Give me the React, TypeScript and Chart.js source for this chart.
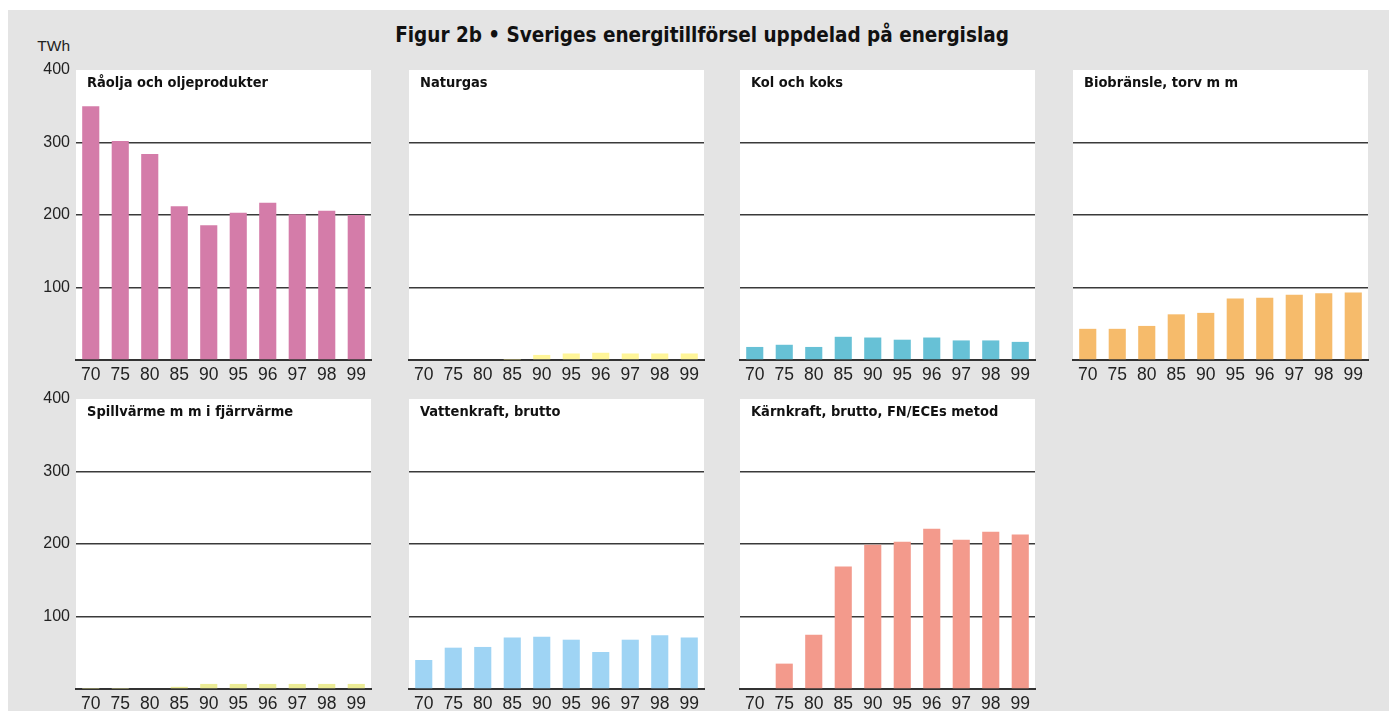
import React, { useEffect, useRef } from 'react';
import { Chart, registerables } from 'chart.js';

Chart.register(...registerables);

// ---- Data ----
const years = ['70', '75', '80', '85', '90', '95', '96', '97', '98', '99'];
const raolja = [350, 302, 284, 212, 186, 203, 217, 201, 206, 200];
const naturgas = [0, 0, 0, 0.5, 7, 9, 10, 9, 9, 9];
const kolKoks = [18, 21, 18, 32, 31, 28, 31, 27, 27, 25];
const biobransle = [43, 43, 47, 63, 65, 85, 86, 90, 92, 93];
const spillvarme = [0.5, 0.5, 1, 3, 7, 7, 7, 7, 7, 7];
const vattenkraft = [40, 57, 58, 71, 72, 68, 51, 68, 74, 71];
const karnkraft = [0, 35, 75, 169, 199, 203, 221, 206, 217, 213];
const yMax = 400;
const yStep = 100;

const chartTitle = 'Figur 2b • Sveriges energitillförsel uppdelad på energislag';
const unitLabel = 'TWh';

const panels = [
  { title: 'Råolja och oljeprodukter', data: raolja, color: '#d47ca9', row: 0, col: 0 },
  { title: 'Naturgas', data: naturgas, color: '#fff598', row: 0, col: 1 },
  { title: 'Kol och koks', data: kolKoks, color: '#67c1d6', row: 0, col: 2 },
  { title: 'Biobränsle, torv m m', data: biobransle, color: '#f6bb6b', row: 0, col: 3 },
  { title: 'Spillvärme m m i fjärrvärme', data: spillvarme, color: '#ecec96', row: 1, col: 0 },
  { title: 'Vattenkraft, brutto', data: vattenkraft, color: '#9fd4f4', row: 1, col: 1 },
  { title: 'Kärnkraft, brutto, FN/ECEs metod', data: karnkraft, color: '#f39a8c', row: 1, col: 2 },
];

// ---- Layout ----
const COL_LEFT = [76, 409, 740, 1073];
const ROW_TOP = [70, 399];
const PLOT_W = 295;
const PLOT_H = 290;
const PT = 22;
const PR = 4;
const XH = 30;

const NARROW = '"Liberation Sans Narrow", "DejaVu Sans Condensed", "Liberation Sans", sans-serif';
const REG = '"Liberation Sans", "DejaVu Sans", sans-serif';

const decorPlugin = {
  id: 'panelDecor',
  beforeDraw(chart: any) {
    const { ctx, chartArea } = chart;
    ctx.save();
    ctx.fillStyle = '#ffffff';
    ctx.fillRect(chartArea.left, chartArea.top, chartArea.right - chartArea.left, chartArea.bottom - chartArea.top);
    ctx.restore();
  },
  afterDatasetsDraw(chart: any, _args: any, opts: any) {
    const { ctx, chartArea } = chart;
    ctx.save();
    ctx.font = `bold 14.5px ${NARROW}`;
    ctx.fillStyle = '#111111';
    ctx.textBaseline = 'middle';
    ctx.textAlign = 'left';
    ctx.fillText(opts.text || '', chartArea.left + 11, chartArea.top + 13);
    ctx.restore();
  },
};

function Panel({ p }: { p: any }) {
  const ref = useRef<HTMLCanvasElement>(null);
  const showY = p.col === 0;
  const yw = showY ? 45 : 8;
  const W = yw + PLOT_W + PR;
  const H = PT + PLOT_H + XH;
  const left = COL_LEFT[p.col] - yw;
  const top = ROW_TOP[p.row] - PT;

  useEffect(() => {
    const chart = new Chart(ref.current as HTMLCanvasElement, {
      type: 'bar',
      data: {
        labels: years,
        datasets: [
          {
            data: p.data,
            backgroundColor: p.color,
            borderWidth: 0,
            barPercentage: 0.58,
            categoryPercentage: 1.0,
          },
        ],
      },
      options: {
        animation: false,
        responsive: false,
        devicePixelRatio: 1,
        layout: { padding: { top: PT, right: PR, left: 0, bottom: 0 } },
        plugins: {
          legend: { display: false },
          title: { display: false },
          tooltip: { enabled: false },
          panelDecor: { text: p.title },
        } as any,
        scales: {
          x: {
            grid: { display: false, drawTicks: false },
            border: { display: true, color: '#333333', width: 2 },
            ticks: {
              color: '#222222',
              font: { family: REG, size: 17.5 },
              padding: 5,
              maxRotation: 0,
              autoSkip: false,
            },
            afterFit: (s: any) => {
              s.height = XH;
            },
          },
          y: {
            min: 0,
            max: yMax,
            grid: {
              drawTicks: false,
              lineWidth: 1.5,
              color: (ctx: any) =>
                ctx.tick && (ctx.tick.value === 0 || ctx.tick.value === yMax) ? 'rgba(0,0,0,0)' : '#3a3a3a',
            },
            border: { display: false },
            ticks: {
              display: showY,
              stepSize: yStep,
              color: '#222222',
              font: { family: REG, size: 16 },
              padding: 6,
              callback: (v: any) => (v === 0 ? '' : String(v)),
            },
            afterFit: (s: any) => {
              s.width = yw;
            },
          },
        },
      } as any,
      plugins: [decorPlugin],
    });
    return () => chart.destroy();
  }, []);

  return (
    <canvas
      ref={ref}
      width={W}
      height={H}
      style={{ position: 'absolute', left, top, width: W, height: H }}
    />
  );
}

export default function App() {
  return (
    <div style={{ position: 'fixed', left: 0, top: 0, width: 1389, height: 711, background: '#ffffff', overflow: 'hidden' }}>
      <div style={{ position: 'absolute', left: 8, top: 10, width: 1381, height: 701, background: '#e4e4e4' }} />
      <div
        style={{
          position: 'absolute',
          left: 302,
          width: 800,
          top: 21,
          lineHeight: '28px',
          textAlign: 'center',
          fontFamily: NARROW,
          fontWeight: 'bold',
          fontSize: 20.5,
          color: '#111',
        }}
      >
        {chartTitle}
      </div>
      <div
        style={{
          position: 'absolute',
          left: 20,
          width: 50,
          top: 37,
          lineHeight: '18px',
          textAlign: 'right',
          fontFamily: REG,
          fontSize: 15.5,
          color: '#222',
        }}
      >
        {unitLabel}
      </div>
      {panels.map((p, i) => (
        <Panel key={i} p={p} />
      ))}
    </div>
  );
}
